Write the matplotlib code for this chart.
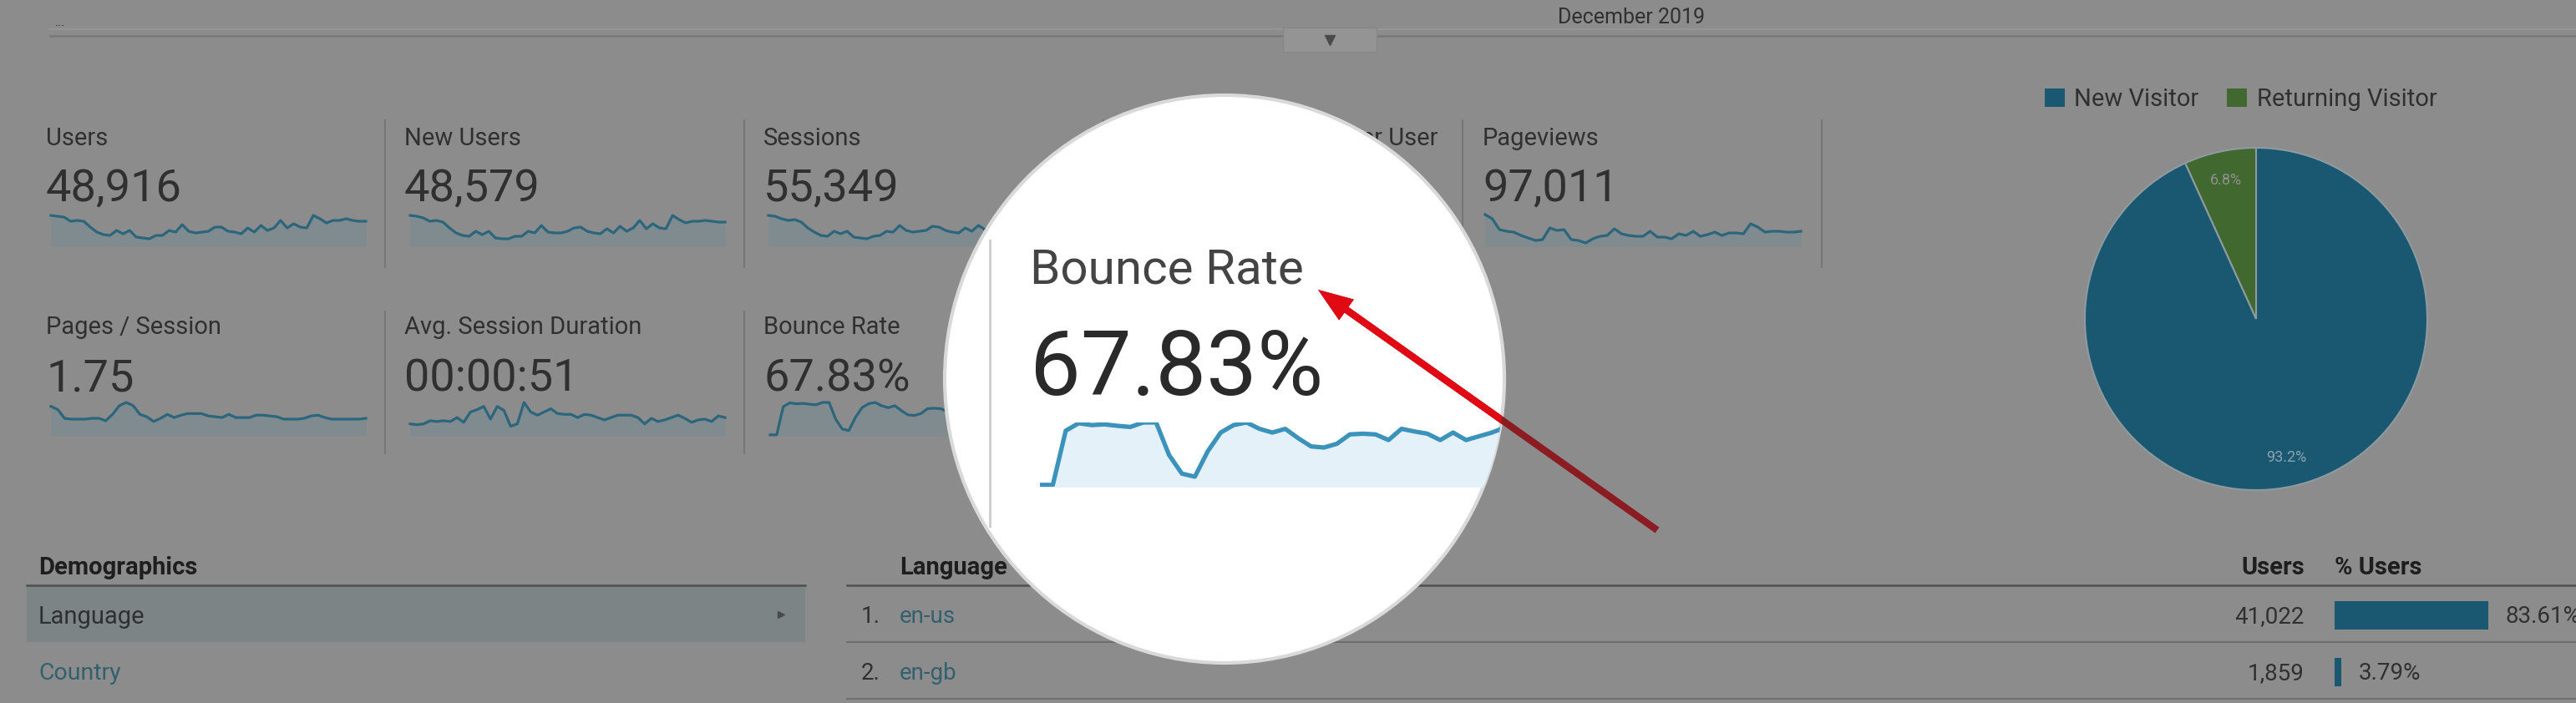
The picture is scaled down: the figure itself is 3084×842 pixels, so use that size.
# -*- coding: utf-8 -*-
import matplotlib
matplotlib.use("Agg")
import matplotlib.pyplot as plt
from matplotlib.patches import Ellipse, FancyArrowPatch, Rectangle

W, H = 3084, 842
plt.rcParams["font.family"] = ["Roboto", "DejaVu Sans"]

# ---------- data ----------
top_labels = ["Users", "New Users", "Sessions", "Number of Sessions per User", "Pageviews"]
top_values = ["48,916", "48,579", "55,349", "", "97,011"]
bottom_labels = ["Pages / Session", "Avg. Session Duration", "Bounce Rate"]
bottom_values = ["1.75", "00:00:51", "67.83%"]

users = [37, 36, 35, 30, 31, 30, 23, 17, 14, 13, 19, 15, 19, 11, 10, 9, 13, 13, 19, 17, 26, 18, 16, 17,
         18, 23, 23, 18, 17, 15, 22, 17, 25, 19, 22, 31, 22, 27, 23, 22, 37, 33, 28, 31, 31, 33, 31, 30, 30]
new_users = [37, 36, 34, 30, 31, 29, 22, 16, 13, 12, 18, 14, 18, 10, 9, 9, 12, 12, 18, 16, 25, 17, 16, 16,
             18, 22, 23, 18, 16, 15, 21, 16, 24, 18, 22, 31, 21, 27, 22, 21, 37, 32, 28, 30, 30, 31, 30, 29, 29]
sessions = [37, 36, 33, 31, 32, 29, 22, 17, 13, 12, 18, 15, 18, 11, 10, 9, 12, 13, 18, 17, 25, 19, 17, 18,
            19, 24, 23, 19, 17, 16, 22, 18, 25, 20, 22, 31, 23, 27, 24, 22, 36, 33, 29, 31, 31, 32, 31, 30, 30]
pageviews = [38, 33, 20, 18, 17, 13, 10, 7, 8, 22, 19, 20, 8, 7, 4, 9, 12, 13, 21, 15, 13, 12, 12, 18,
             11, 11, 9, 15, 13, 18, 12, 14, 17, 13, 16, 16, 15, 27, 23, 17, 18, 18, 17, 17, 18]
pages_session = [37, 33, 22, 21, 21, 21, 22, 22, 19, 27, 38, 42, 38, 27, 24, 18, 22, 27, 23, 26, 28, 28,
                 28, 25, 24, 23, 27, 23, 23, 23, 26, 26, 25, 24, 21, 21, 21, 22, 25, 26, 23, 21, 21, 21, 21, 21, 22]
avg_duration = [15, 14, 15, 19, 18, 19, 18, 23, 17, 30, 33, 37, 21, 37, 32, 12, 15, 42, 30, 26, 30, 34,
                28, 27, 27, 23, 27, 26, 23, 20, 23, 26, 26, 26, 23, 15, 22, 18, 20, 23, 26, 22, 17, 20, 21, 18, 25, 23]
bounce_rate = [5, 5, 150, 170, 165, 167, 163, 160, 172, 172, 85, 35, 27, 95, 145, 165, 172, 155, 145, 155,
               130, 108, 105, 115, 140, 142, 140, 125, 155, 148, 142, 125, 145, 125, 135, 145, 158,
               150, 148, 152, 150, 146, 150, 148, 152, 150, 148, 150, 148]

visitor_labels = ["Returning Visitor", "New Visitor"]
visitor_shares = [6.8, 93.2]

languages = ["en-us", "en-gb"]
language_users = ["41,022", "1,859"]
language_pct = [83.61, 3.79]

# ---------- style ----------
BG = "#8c8c8c"
INK = "#303030"
HEAD = "#1e1e1e"
LINK = "#33606f"
SPARK = "#2c667c"
SPARK_FILL = "#7f8b8f"
BLUE = "#1a5872"
GREEN = "#41692f"
RULE = "#6f6f6f"


def px_axes(x0, y0, x1, y1, zorder=1):
    # axes placed in image pixels, y counted from the top
    ax = fig.add_axes([x0 / W, 1 - y1 / H, (x1 - x0) / W, (y1 - y0) / H], zorder=zorder)
    ax.axis("off")
    return ax


def sparkline(x0, x1, y_top, y_base, values, top, color=SPARK, fill=SPARK_FILL, lw=2.3, zorder=1):
    ax = px_axes(x0, y_top, x1, y_base, zorder)
    days = range(len(values))
    ax.fill_between(days, values, 0, color=fill, lw=0)
    ax.plot(days, values, color=color, lw=lw, solid_joinstyle="round", clip_on=False)
    ax.set_xlim(0, len(values) - 1)
    ax.set_ylim(0, top)
    return ax


def lens_shape(transform):
    # the magnifier is slightly taller than wide in the source
    return Ellipse((1466, 454), 670, 680, transform=transform)


fig = plt.figure(figsize=(W / 100, H / 100), dpi=100, facecolor=BG)

base = px_axes(0, 0, W, H, 0)
base.set_xlim(0, W)
base.set_ylim(H, 0)

# ---------- top strip ----------
base.text(72, 27, "...", fontsize=11, color=INK, ha="center", va="center")
base.text(1953, 21, "December 2019", fontsize=18, color=INK, ha="center", va="center")
base.plot([60, W], [35, 35], color="#969696", lw=1.5)
base.plot([60, W], [43, 43], color="#787878", lw=1.8)
base.add_patch(Rectangle((1536, 33), 112, 29, fc="#949494", ec="#878787", lw=1, zorder=3))
base.plot(1592, 48, marker="v", ms=8, color="#4a4a4a", zorder=4)

# ---------- metric tiles ----------
tile_x = [55, 484, 914, 1343, 1775]
for x, label, value in zip(tile_x, top_labels, top_values):
    base.text(x, 166, label, fontsize=21, color=INK, va="center")
    base.text(x, 226, value, fontsize=39, color=INK, va="center")
for x, label, value in zip(tile_x, bottom_labels, bottom_values):
    base.text(x, 392, label, fontsize=21, color=INK, va="center")
    base.text(x, 454, value, fontsize=39, color=INK, va="center")

for x in [461, 891, 1321, 1751, 2181]:
    base.plot([x, x], [144, 320], color="#717171", lw=1.2)
for x in [461, 891, 1321]:
    base.plot([x, x], [373, 543], color="#717171", lw=1.2)

sparkline(61, 438, 255, 295, users, 40)
sparkline(491, 868, 255, 295, new_users, 40)
sparkline(920, 1297, 255, 295, sessions, 40)
sparkline(1778, 2156, 255, 295, pageviews, 40)
sparkline(61, 438, 482, 522, pages_session, 42)
sparkline(491, 868, 482, 522, avg_duration, 42)
sparkline(922, 1299, 482, 522, bounce_rate, 172)

# ---------- pie ----------
legend_items = [(2448, 2483, "New Visitor", BLUE), (2666, 2702, "Returning Visitor", GREEN)]
for sx, tx, name, col in legend_items:
    base.add_patch(Rectangle((sx, 106), 24, 22, fc=col, ec="none"))
    base.text(tx, 119, name, fontsize=21, color=INK, va="center")

pie_ax = px_axes(2496, 177, 2906, 587)
wedges, _, pct = pie_ax.pie(
    visitor_shares,
    labels=None,
    colors=[GREEN, BLUE],
    startangle=90,
    radius=1.0,
    autopct="%.1f%%",
    pctdistance=0.83,
    wedgeprops={"edgecolor": "#8d9ba1", "linewidth": 1.5},
)
pie_ax.set_xlim(-1, 1)
pie_ax.set_ylim(-1, 1)
for t, c in zip(pct, ["#8f8f8f", "#8aa3ae"]):
    t.set_color(c)
    t.set_fontsize(13)

# ---------- tables ----------
base.text(46, 680, "Demographics", fontsize=21, fontweight="bold", color=HEAD, va="center")
base.plot([32, 964], [701, 701], color="#4f4f4f", lw=1.8)
base.add_patch(Rectangle((32, 702), 932, 67, fc="#7c8486", ec="none"))
base.text(46, 739, "Language", fontsize=21, color=INK, va="center")
base.plot(935, 736, marker=">", ms=6, color="#4a4a4a")
base.text(46, 807, "Country", fontsize=20.5, color=LINK, va="center")

base.text(1077, 680, "Language", fontsize=21, fontweight="bold", color=HEAD, va="center")
base.text(2759, 680, "Users", fontsize=21, fontweight="bold", color=HEAD, va="center", ha="right")
base.text(2795, 680, "% Users", fontsize=21, fontweight="bold", color=HEAD, va="center")
base.plot([1014, W], [701, 701], color="#4f4f4f", lw=1.8)
for y in [769, 837]:
    base.plot([1014, W], [y, y], color=RULE, lw=1.5)

row_y = [739, 807]
for i, (lang, y) in enumerate(zip(languages, row_y)):
    base.text(1031, y, f"{i + 1}.", fontsize=20, color=INK, va="center")
    base.text(1077, y, lang, fontsize=20, color=LINK, va="center")
    base.text(2759, y, language_users[i], fontsize=20, color=INK, va="center", ha="right")

bar_ax = px_axes(2795, 703, 3015, 839)
bar_ax.barh(range(len(language_pct)), language_pct, height=0.5, color=BLUE)
bar_ax.set_xlim(0, 100)
bar_ax.set_ylim(1.5, -0.5)
for i, v in enumerate(language_pct):
    bar_ax.annotate(f"{v:.2f}%", (v, i), xytext=(15, -1), textcoords="offset points",
                    fontsize=20, color=INK, va="center", annotation_clip=False)

# ---------- magnifier ----------
over = px_axes(0, 0, W, H, 5)
over.set_xlim(0, W)
over.set_ylim(H, 0)
lens = lens_shape(over.transData)
lens.set(facecolor="white", edgecolor="#d9d9d9", linewidth=3)
over.add_patch(lens)
over.plot([1185, 1185], [288, 630], color="#d0d0d0", lw=2.2)
over.text(1233, 324, bottom_labels[2], fontsize=42, color="#444444", va="center")
over.text(1233, 444, bottom_values[2], fontsize=78, color="#2a2a2a", va="center")

zoom_ax = sparkline(1245, 1987, 506, 583, bounce_rate, 172, color="#3b93bb", fill="#e5f1f8", lw=3.8, zorder=6)
for artist in zoom_ax.collections + zoom_ax.lines:
    artist.set_clip_on(True)
    artist.set_clip_path(lens_shape(over.transData))

# ---------- arrow ----------
arrow_ax = px_axes(0, 0, W, H, 7)
arrow_ax.set_xlim(0, W)
arrow_ax.set_ylim(H, 0)
arrow_style = "simple,head_length=30,head_width=22,tail_width=6"
dark = FancyArrowPatch((1984, 635), (1578, 347), arrowstyle=arrow_style, mutation_scale=1,
                       shrinkA=0, shrinkB=0, fc="#8a1c22", ec="none", lw=0)
arrow_ax.add_patch(dark)
red = FancyArrowPatch((1984, 635), (1578, 347), arrowstyle=arrow_style, mutation_scale=1,
                      shrinkA=0, shrinkB=0, fc="#e10a14", ec="none", lw=0)
arrow_ax.add_patch(red)
red.set_clip_path(lens_shape(arrow_ax.transData))

fig.savefig("out.png", dpi=100, facecolor=BG)
